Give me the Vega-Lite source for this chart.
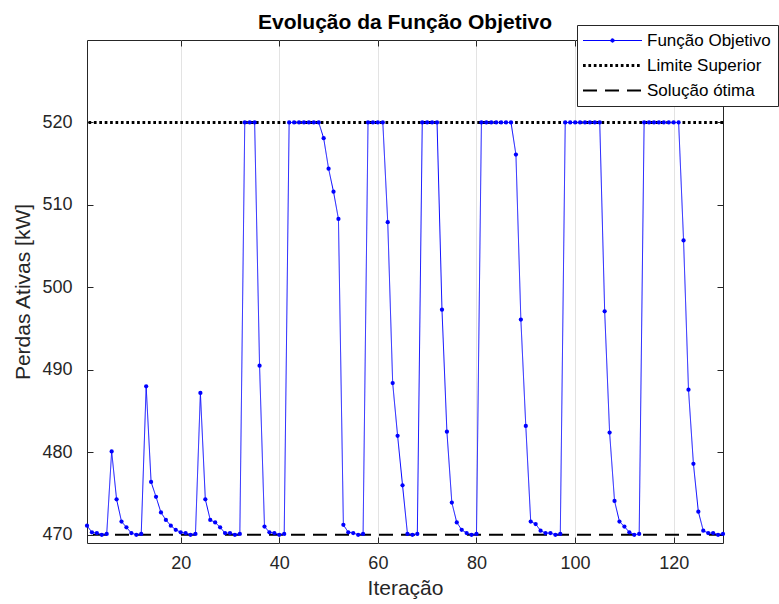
{
  "$schema": "https://vega.github.io/schema/vega-lite/v6.json",
  "autosize": {"type": "none"},
  "width": 636,
  "height": 503,
  "padding": {"top": 40, "left": 87, "right": 56, "bottom": 61},
  "background": "white",
  "config": {
    "font": "Liberation Sans",
    "view": {"stroke": "#262626", "strokeWidth": 1},
    "axis": {"labelFont": "Liberation Sans", "titleFont": "Liberation Sans", "labelColor": "#262626", "titleColor": "#262626", "tickColor": "#262626", "domain": false, "titleFontWeight": "normal"},
    "legend": {"orient": "none", "legendX": 490, "legendY": -15, "strokeColor": "#262626", "fillColor": "white", "padding": 7, "labelFont": "Liberation Sans", "labelFontSize": 17, "labelColor": "#000000", "symbolType": "M-5.9,0L5.9,0", "symbolSize": 100, "symbolOffset": 20, "labelOffset": 26, "rowPadding": 7, "symbolStrokeWidth": 1.5}
  },
  "title": {"text": "Evolução da Função Objetivo", "font": "Liberation Sans", "fontSize": 21, "fontWeight": "bold", "color": "#000000", "offset": 0, "dy": 8},
  "datasets": {
    "fo": [
      {"it": 1, "perdas": 471.1}, {"it": 2, "perdas": 470.3}, {"it": 3, "perdas": 470.2}, {"it": 4, "perdas": 470.0}, {"it": 5, "perdas": 470.1},
      {"it": 6, "perdas": 480.1}, {"it": 7, "perdas": 474.3}, {"it": 8, "perdas": 471.6}, {"it": 9, "perdas": 470.9}, {"it": 10, "perdas": 470.2},
      {"it": 11, "perdas": 470.0}, {"it": 12, "perdas": 470.1}, {"it": 13, "perdas": 488.0}, {"it": 14, "perdas": 476.4}, {"it": 15, "perdas": 474.6},
      {"it": 16, "perdas": 472.7}, {"it": 17, "perdas": 471.8}, {"it": 18, "perdas": 471.1}, {"it": 19, "perdas": 470.6}, {"it": 20, "perdas": 470.3},
      {"it": 21, "perdas": 470.2}, {"it": 22, "perdas": 470.0}, {"it": 23, "perdas": 470.1}, {"it": 24, "perdas": 487.2}, {"it": 25, "perdas": 474.3},
      {"it": 26, "perdas": 471.8}, {"it": 27, "perdas": 471.5}, {"it": 28, "perdas": 470.9}, {"it": 29, "perdas": 470.2}, {"it": 30, "perdas": 470.2},
      {"it": 31, "perdas": 470.0}, {"it": 32, "perdas": 470.1}, {"it": 33, "perdas": 520.0}, {"it": 34, "perdas": 520.0}, {"it": 35, "perdas": 520.0},
      {"it": 36, "perdas": 490.5}, {"it": 37, "perdas": 471.0}, {"it": 38, "perdas": 470.3}, {"it": 39, "perdas": 470.2}, {"it": 40, "perdas": 470.0},
      {"it": 41, "perdas": 470.1}, {"it": 42, "perdas": 520.0}, {"it": 43, "perdas": 520.0}, {"it": 44, "perdas": 520.0}, {"it": 45, "perdas": 520.0},
      {"it": 46, "perdas": 520.0}, {"it": 47, "perdas": 520.0}, {"it": 48, "perdas": 520.0}, {"it": 49, "perdas": 518.1}, {"it": 50, "perdas": 514.4},
      {"it": 51, "perdas": 511.6}, {"it": 52, "perdas": 508.3}, {"it": 53, "perdas": 471.2}, {"it": 54, "perdas": 470.3}, {"it": 55, "perdas": 470.2},
      {"it": 56, "perdas": 470.0}, {"it": 57, "perdas": 470.1}, {"it": 58, "perdas": 520.0}, {"it": 59, "perdas": 520.0}, {"it": 60, "perdas": 520.0},
      {"it": 61, "perdas": 520.0}, {"it": 62, "perdas": 507.9}, {"it": 63, "perdas": 488.4}, {"it": 64, "perdas": 482.0}, {"it": 65, "perdas": 476.0},
      {"it": 66, "perdas": 470.1}, {"it": 67, "perdas": 470.0}, {"it": 68, "perdas": 470.1}, {"it": 69, "perdas": 520.0}, {"it": 70, "perdas": 520.0},
      {"it": 71, "perdas": 520.0}, {"it": 72, "perdas": 520.0}, {"it": 73, "perdas": 497.3}, {"it": 74, "perdas": 482.5}, {"it": 75, "perdas": 473.9},
      {"it": 76, "perdas": 471.5}, {"it": 77, "perdas": 470.6}, {"it": 78, "perdas": 470.2}, {"it": 79, "perdas": 470.0}, {"it": 80, "perdas": 470.1},
      {"it": 81, "perdas": 520.0}, {"it": 82, "perdas": 520.0}, {"it": 83, "perdas": 520.0}, {"it": 84, "perdas": 520.0}, {"it": 85, "perdas": 520.0},
      {"it": 86, "perdas": 520.0}, {"it": 87, "perdas": 520.0}, {"it": 88, "perdas": 516.1}, {"it": 89, "perdas": 496.1}, {"it": 90, "perdas": 483.2},
      {"it": 91, "perdas": 471.6}, {"it": 92, "perdas": 471.3}, {"it": 93, "perdas": 470.5}, {"it": 94, "perdas": 470.2}, {"it": 95, "perdas": 470.2},
      {"it": 96, "perdas": 470.0}, {"it": 97, "perdas": 470.1}, {"it": 98, "perdas": 520.0}, {"it": 99, "perdas": 520.0}, {"it": 100, "perdas": 520.0},
      {"it": 101, "perdas": 520.0}, {"it": 102, "perdas": 520.0}, {"it": 103, "perdas": 520.0}, {"it": 104, "perdas": 520.0}, {"it": 105, "perdas": 520.0},
      {"it": 106, "perdas": 497.1}, {"it": 107, "perdas": 482.4}, {"it": 108, "perdas": 474.1}, {"it": 109, "perdas": 471.6}, {"it": 110, "perdas": 471.0},
      {"it": 111, "perdas": 470.3}, {"it": 112, "perdas": 470.0}, {"it": 113, "perdas": 470.1}, {"it": 114, "perdas": 520.0}, {"it": 115, "perdas": 520.0},
      {"it": 116, "perdas": 520.0}, {"it": 117, "perdas": 520.0}, {"it": 118, "perdas": 520.0}, {"it": 119, "perdas": 520.0}, {"it": 120, "perdas": 520.0},
      {"it": 121, "perdas": 520.0}, {"it": 122, "perdas": 505.7}, {"it": 123, "perdas": 487.6}, {"it": 124, "perdas": 478.6}, {"it": 125, "perdas": 472.8},
      {"it": 126, "perdas": 470.5}, {"it": 127, "perdas": 470.2}, {"it": 128, "perdas": 470.2}, {"it": 129, "perdas": 470.0}, {"it": 130, "perdas": 470.1}
    ],
    "lim": [{"s": "Limite Superior", "perdas": 520}],
    "opt": [{"s": "Solução ótima", "perdas": 470}]
  },
  "resolve": {"axis": {"x": "independent", "y": "independent"}},
  "layer": [
    {
      "data": {"name": "lim"},
      "mark": {"type": "rule", "strokeWidth": 3},
      "encoding": {
        "y": {"field": "perdas", "type": "quantitative", "axis": null},
        "color": {"field": "s", "type": "nominal", "legend": {"title": null}},
        "strokeDash": {"field": "s", "type": "nominal", "legend": {"title": null}}
      }
    },
    {
      "data": {"name": "opt"},
      "mark": {"type": "rule", "strokeWidth": 2},
      "encoding": {
        "y": {"field": "perdas", "type": "quantitative", "axis": null},
        "color": {"field": "s", "type": "nominal", "legend": {"title": null}},
        "strokeDash": {"field": "s", "type": "nominal", "legend": {"title": null}}
      }
    },
    {
      "data": {"name": "fo"},
      "mark": {"type": "line", "strokeWidth": 1},
      "encoding": {
        "x": {"field": "it", "type": "quantitative", "scale": {"domain": [1, 130], "nice": false, "zero": false},
              "axis": {"orient": "bottom", "values": [20, 40, 60, 80, 100, 120], "tickSize": -6, "labelPadding": 17, "labelFontSize": 18, "title": "Iteração", "titleFontSize": 21, "titlePadding": 5, "grid": true, "gridColor": "#e3e3e3", "gridWidth": 1}},
        "y": {"field": "perdas", "type": "quantitative", "scale": {"domain": [469, 530], "nice": false, "zero": false},
              "axis": {"orient": "left", "values": [470, 480, 490, 500, 510, 520], "tickSize": -6, "labelPadding": 21, "labelFontSize": 18, "title": "Perdas Ativas [kW]", "titleFontSize": 21, "titlePadding": 8, "grid": false}},
        "color": {"datum": "Função Objetivo", "type": "nominal",
                  "scale": {"domain": ["Função Objetivo", "Limite Superior", "Solução ótima"], "range": ["#0000ff", "#000000", "#000000"]},
                  "legend": {"title": null, "encode": {"symbols": {"update": {"strokeWidth": {"signal": "datum.value === 'Limite Superior' ? 3 : datum.value === 'Solução ótima' ? 2 : 1"}, "fill": {"signal": "datum.value === 'Função Objetivo' ? '#0000ff' : 'transparent'"}, "shape": {"signal": "datum.value === 'Função Objetivo' ? 'M-5.9,0L5.9,0M-0.35,0A0.35,0.35,0,1,1,0.35,0A0.35,0.35,0,1,1,-0.35,0' : 'M-5.9,0L5.9,0'"}}}}}},
        "strokeDash": {"datum": "Função Objetivo", "type": "nominal",
                  "scale": {"domain": ["Função Objetivo", "Limite Superior", "Solução ótima"], "range": [[1, 0], [2.7, 2.7], [14, 8]]},
                  "legend": {"title": null}}
      }
    },
    {
      "data": {"name": "fo"},
      "mark": {"type": "point", "filled": true, "size": 18, "color": "#0000ff", "opacity": 1},
      "encoding": {
        "x": {"field": "it", "type": "quantitative",
              "axis": {"orient": "top", "values": [20, 40, 60, 80, 100, 120], "tickSize": -6, "labels": false, "title": null, "grid": false}},
        "y": {"field": "perdas", "type": "quantitative",
              "axis": {"orient": "right", "values": [470, 480, 490, 500, 510, 520], "tickSize": -6, "labels": false, "title": null, "grid": false}}
      }
    }
  ]
}
